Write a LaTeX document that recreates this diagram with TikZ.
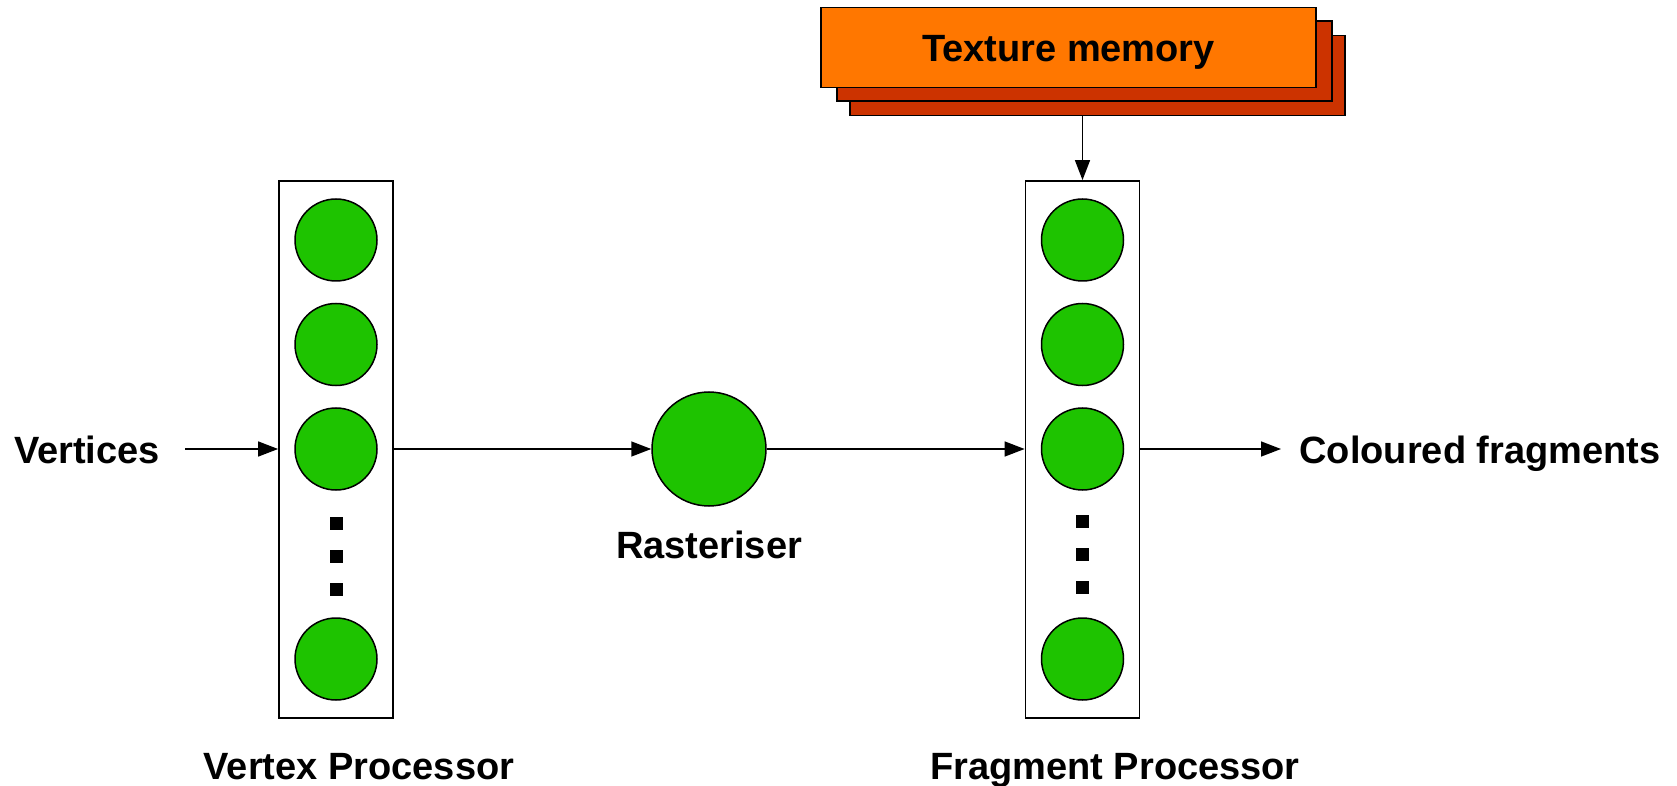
\documentclass[tikz,border=0pt]{standalone}
\usepackage{fontspec}
\setmainfont{Liberation Sans}
\usetikzlibrary{arrows.meta}
\definecolor{cgreen}{RGB}{30,195,0}
\definecolor{corange}{RGB}{255,119,0}
\definecolor{cred}{RGB}{204,51,0}
\tikzset{
  lbl/.style={inner sep=0pt, anchor=base, font=\fontsize{19}{22}\selectfont\bfseries},
  procbox/.style={draw, line width=0.9pt, fill=white, minimum width=57pt, minimum height=268.5pt, inner sep=0pt},
  unit/.style={circle, draw, line width=0.75pt, fill=cgreen, minimum size=41pt, inner sep=0pt},
  bigunit/.style={circle, draw, line width=0.75pt, fill=cgreen, minimum size=57pt, inner sep=0pt},
  sqdot/.style={fill=black, minimum size=6.5pt, inner sep=0pt},
  texbox/.style={draw, line width=0.75pt, minimum width=247.5pt, minimum height=40pt, inner sep=0pt},
  arr/.style={-{Triangle[length=10pt,width=7.5pt]}, line width=0.75pt},
}
\begin{document}
\begin{tikzpicture}[x=0.5pt,y=-0.5pt]
\useasboundingbox (0,0) rectangle (1677,786);
% texture memory stack
\node[texbox, fill=cred] (tex3) at (1097.5,75.5) {};
\node[texbox, fill=cred] (tex2) at (1084.5,61) {};
\node[texbox, fill=corange] (tex1) at (1068.5,47.5) {};
\node[lbl] (textl) at (1068.5,62) {Texture memory};
% vertex processor
\node[procbox] (vbox) at (336,449.5) {};
\node[unit] (v1) at (336,240) {};
\node[unit] (v2) at (336,344.5) {};
\node[unit] (v3) at (336,449) {};
\node[sqdot] (vd1) at (336,523) {};
\node[sqdot] (vd2) at (336,556) {};
\node[sqdot] (vd3) at (336,589) {};
\node[unit] (v4) at (336,659) {};
% fragment processor
\node[procbox] (fbox) at (1082.5,449.5) {};
\node[unit] (f1) at (1082.5,240) {};
\node[unit] (f2) at (1082.5,344.5) {};
\node[unit] (f3) at (1082.5,449) {};
\node[sqdot] (fd1) at (1082.5,521) {};
\node[sqdot] (fd2) at (1082.5,554) {};
\node[sqdot] (fd3) at (1082.5,587) {};
\node[unit] (f4) at (1082.5,659) {};
% rasteriser
\node[bigunit] (rast) at (709,449) {};
% labels
\node[lbl] (vertices) at (87,463) {Vertices};
\node[lbl] (rastl) at (709,558) {Rasteriser};
\node[lbl] (vpl) at (359,779) {Vertex Processor};
\node[lbl] (fpl) at (1115,779) {Fragment Processor};
\node[lbl] (outl) at (1480,463) {Coloured fragments};
% connectors
\coordinate (vin) at (185,449);
\coordinate (fout) at (1281,449);
\draw[arr] (vin) -- (vin -| vbox.west);
\draw[arr] (v3 -| vbox.east) -- (rast.west);
\draw[arr] (rast.east) -- (rast -| fbox.west);
\draw[arr] (f3 -| fbox.east) -- (fout);
\draw[arr] (fbox.north |- tex3.south) -- (fbox.north);
\end{tikzpicture}
\end{document}
